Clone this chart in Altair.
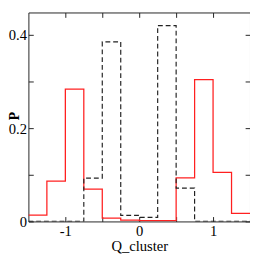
import altair as alt
import pandas as pd

# bin edges and probabilities
edges = [-1.5, -1.25, -1.0, -0.75, -0.5, -0.25, 0.0, 0.25, 0.5, 0.75, 1.0, 1.25, 1.5]
red_p = [0.0134, 0.0863, 0.2837, 0.0695, 0.0073, 0.0026, 0.0015, 0.0015, 0.0932, 0.304, 0.105, 0.0175]
black_p = [0.0, 0.0, 0.0, 0.093, 0.385, 0.013, 0.0087, 0.42, 0.0715, 0.0, 0.0, 0.0]
x_ticks = [-1.0, -0.5, 0.0, 0.5, 1.0]
y_ticks = [0.0, 0.1, 0.2, 0.3, 0.4]
x_domain = [-1.5, 1.5]
y_domain = [0.0, 0.448]


def steps(vals):
    # step-after needs the last bin's value repeated at the right edge
    return pd.DataFrame({"Q": edges, "P": vals + [vals[-1]]})


xs = alt.Scale(domain=x_domain, nice=False, zero=False)
ys = alt.Scale(domain=y_domain, nice=False)

FONT = "Liberation Serif"
common = dict(offset=-5, tickSize=5, domain=False, tickColor="#222", tickWidth=1, grid=False)

x_lab = "datum.value % 1 == 0 ? toString(datum.value) : ''"
y_lab = "(datum.value == 0 || datum.value == 0.2 || datum.value == 0.4) ? toString(datum.value) : ''"

red = alt.Chart(steps(red_p)).mark_line(
    interpolate="step-after", color="#ff2020", strokeWidth=1.3, clip=True
).encode(
    x=alt.X("Q:Q", scale=xs, axis=alt.Axis(
        orient="bottom", values=x_ticks, labelExpr=x_lab, title="Q_cluster",
        labelPadding=2, titlePadding=1, titleFontWeight="normal", **common)),
    y=alt.Y("P:Q", scale=ys, axis=alt.Axis(
        orient="left", values=y_ticks, labelExpr=y_lab, title="P",
        labelPadding=2, titleFontWeight="bold", titleFontSize=14,
        titleAngle=270, titleAlign="center", titleBaseline="bottom",
        titleX=-12, titleY=106, **common)),
)

black = alt.Chart(steps(black_p)).mark_line(
    interpolate="step-after", color="#222222", strokeWidth=1.2, strokeDash=[5, 3], clip=True
).encode(
    x=alt.X("Q:Q", scale=xs, axis=alt.Axis(
        orient="top", values=x_ticks, labels=False, title=None, **common)),
    y=alt.Y("P:Q", scale=ys, axis=alt.Axis(
        orient="right", values=y_ticks, labels=False, title=None, **common)),
)

chart = alt.layer(red, black).resolve_axis(x="independent", y="independent").properties(
    width=228, height=215,
    autosize=alt.AutoSizeParams(type="none"),
    padding={"left": 21, "top": 1, "right": 0, "bottom": 34},
).configure(font=FONT).configure_axis(
    labelFont=FONT, labelFontSize=15, labelColor="black",
    titleFont=FONT, titleFontSize=15, titleColor="black",
).configure_view(stroke="#222", strokeWidth=1)

chart.save("out.html", embed_options={"renderer": "svg", "actions": False})
